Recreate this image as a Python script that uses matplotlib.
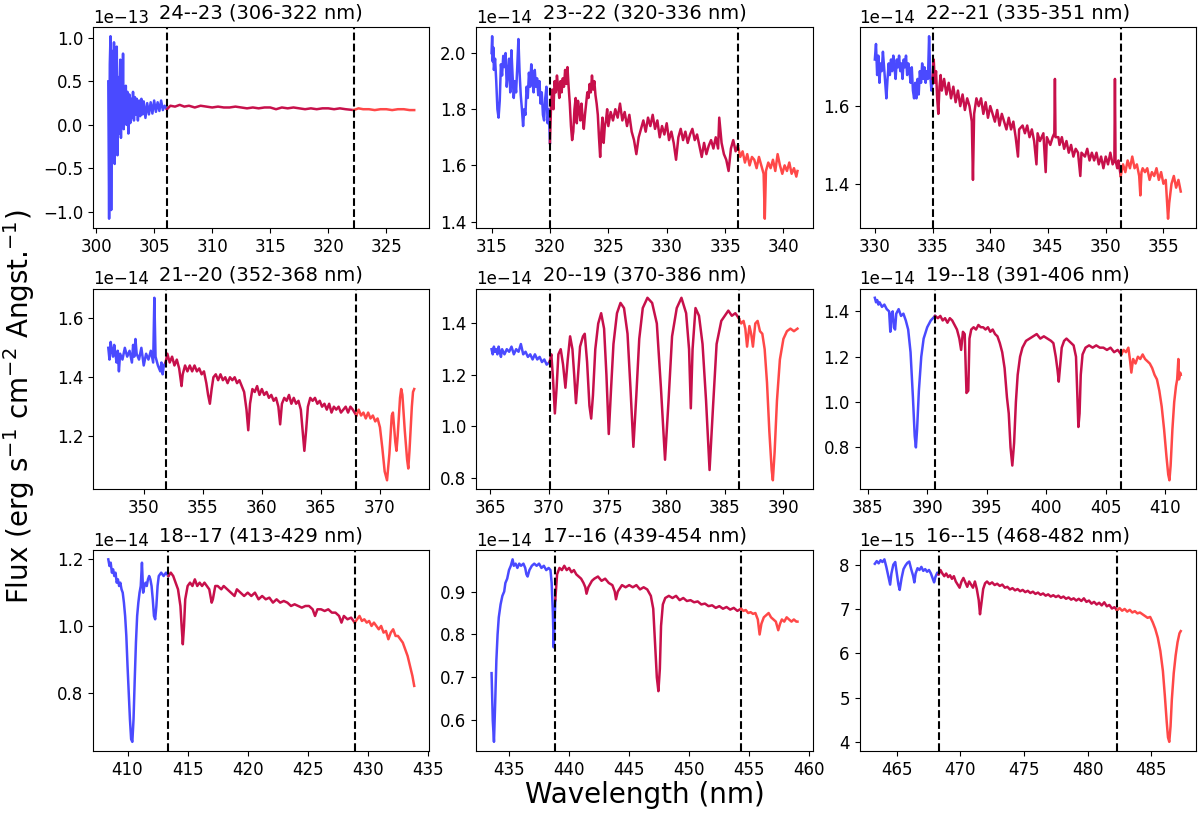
import numpy as np
import matplotlib
matplotlib.use("Agg")
import matplotlib.pyplot as plt

# ---- data (flux in units of SCALE for each panel) ----
TITLES = ["24--23 (306-322 nm)", "23--22 (320-336 nm)", "22--21 (335-351 nm)",
          "21--20 (352-368 nm)", "20--19 (370-386 nm)", "19--18 (391-406 nm)",
          "18--17 (413-429 nm)", "17--16 (439-454 nm)", "16--15 (468-482 nm)"]
EXPO = [-13, -14, -14, -14, -14, -14, -14, -14, -15]
EDGES = [(306.1, 322.2), (320.0, 336.1), (335.0, 351.3),
         (351.85, 368.0), (370.05, 386.2), (390.66, 406.3),
         (413.4, 428.9), (438.85, 454.3), (468.3, 482.3)]
YTICKS = [[-1.0, -0.5, 0.0, 0.5, 1.0], [1.4, 1.6, 1.8, 2.0], [1.4, 1.6],
          [1.2, 1.4, 1.6], [0.8, 1.0, 1.2, 1.4], [0.8, 1.0, 1.2, 1.4],
          [0.8, 1.0, 1.2], [0.6, 0.7, 0.8, 0.9], [4, 5, 6, 7, 8]]

W1 = [301.05, 301.12, 301.18, 301.24, 301.30, 301.36, 301.42, 301.48, 301.54, 301.60,
      301.66, 301.72, 301.78, 301.84, 301.90, 301.96, 302.02, 302.08, 302.14, 302.20,
      302.26, 302.32, 302.38, 302.44, 302.50, 302.56, 302.62, 302.70, 302.78, 302.86,
      302.94, 303.02, 303.10, 303.18, 303.26, 303.34, 303.42, 303.50, 303.60, 303.70,
      303.80, 303.90, 304.00, 304.10, 304.25, 304.40, 304.55, 304.70, 304.85, 305.00,
      305.15, 305.30, 305.45, 305.60, 305.75, 305.90, 306.10,
      306.4, 306.8, 307.2, 307.6, 308.0, 308.5, 309.0, 309.5, 310.0, 310.5, 311.0,
      311.5, 312.0, 312.5, 313.0, 313.5, 314.0, 314.5, 315.0, 315.5, 316.0, 316.5,
      317.0, 317.5, 318.0, 318.5, 319.0, 319.5, 320.0, 320.5, 321.0, 321.5, 322.2,
      322.6, 323.0, 323.5, 324.0, 324.5, 325.0, 325.5, 326.0, 326.5, 327.0, 327.4]
F1 = [0.50, -1.08, 0.70, 1.02, -0.98, 0.35, 0.85, -0.40, 0.95, -0.45,
      0.60, 0.20, 0.90, -0.35, 0.55, -0.10, 0.40, 0.75, -0.15, 0.62,
      0.10, 0.82, -0.05, 0.35, 0.05, 0.45, 0.00, 0.38, -0.10, 0.35,
      0.02, 0.30, 0.08, 0.38, 0.05, 0.32, 0.12, 0.30, 0.05, 0.28,
      0.10, 0.30, 0.12, 0.27, 0.08, 0.25, 0.12, 0.26, 0.13, 0.28,
      0.15, 0.26, 0.16, 0.28, 0.17, 0.22, 0.18,
      0.22, 0.21, 0.23, 0.21, 0.22, 0.20, 0.22, 0.21, 0.20, 0.21, 0.20,
      0.20, 0.21, 0.20, 0.19, 0.20, 0.19, 0.20, 0.20, 0.18, 0.20, 0.19,
      0.20, 0.19, 0.18, 0.19, 0.18, 0.19, 0.19, 0.18, 0.19, 0.18, 0.17,
      0.19, 0.18, 0.18, 0.17, 0.18, 0.18, 0.17, 0.18, 0.18, 0.17, 0.17]

W2 = [315.0, 315.05, 315.1, 315.15, 315.2, 315.3, 315.4, 315.5, 315.6, 315.7,
      315.8, 315.9, 316.0, 316.1, 316.2, 316.3, 316.4, 316.5, 316.6, 316.7,
      316.8, 316.9, 317.0, 317.1, 317.2, 317.3, 317.4, 317.5, 317.6, 317.7,
      317.8, 317.9, 318.0, 318.1, 318.2, 318.3, 318.4, 318.5, 318.6, 318.7,
      318.8, 318.9, 319.0, 319.1, 319.2, 319.3, 319.4, 319.5, 319.6, 319.7,
      319.8, 319.9, 320.0,
      320.1, 320.2, 320.3, 320.4, 320.5, 320.6, 320.7, 320.8, 320.9, 321.0,
      321.1, 321.2, 321.3, 321.4, 321.5, 321.6, 321.7, 321.8, 321.9, 322.0,
      322.1, 322.2, 322.3, 322.4, 322.5, 322.6, 322.7, 322.8, 322.9, 323.0,
      323.1, 323.2, 323.3, 323.4, 323.5, 323.6, 323.7, 323.8, 323.9, 324.0,
      324.1, 324.2, 324.3, 324.4, 324.5, 324.6, 324.7, 324.8, 324.9, 325.0,
      325.2, 325.4, 325.6, 325.8, 326.0, 326.2, 326.4, 326.6, 326.8, 327.0,
      327.2, 327.4, 327.6, 327.8, 328.0, 328.2, 328.4, 328.6, 328.8, 329.0,
      329.2, 329.4, 329.6, 329.8, 330.0, 330.2, 330.4, 330.6, 330.8, 331.0,
      331.2, 331.4, 331.6, 331.8, 332.0, 332.2, 332.4, 332.6, 332.8, 333.0,
      333.2, 333.4, 333.6, 333.8, 334.0, 334.2, 334.4, 334.5, 334.7, 334.9,
      335.1, 335.3, 335.5, 335.7, 335.9, 336.1,
      336.3, 336.5, 336.7, 336.9, 337.1, 337.3, 337.5, 337.7, 337.9, 338.1,
      338.3, 338.4, 338.5, 338.7, 338.9, 339.1, 339.3, 339.5, 339.7, 339.9,
      340.1, 340.3, 340.5, 340.7, 340.9, 341.1, 341.2]
F2 = [2.00, 2.06, 1.97, 2.02, 1.94, 1.98, 1.90, 1.80, 1.77, 1.83,
      1.96, 1.92, 1.99, 1.95, 2.00, 1.88, 1.93, 1.98, 1.86, 2.01,
      1.92, 1.84, 1.90, 1.86, 1.95, 2.05, 1.93, 1.85, 1.80, 1.74,
      1.80, 1.78, 1.88, 1.84, 1.93, 1.88, 1.96, 1.90, 1.86, 1.94,
      1.88, 1.91, 1.85, 1.90, 1.82, 1.86, 1.78, 1.76, 1.84, 1.88,
      1.75, 1.80, 1.68,
      1.82, 1.87, 1.80, 1.90, 1.86, 1.92, 1.88, 1.84, 1.90, 1.86,
      1.91, 1.88, 1.94, 1.89, 1.95, 1.88, 1.82, 1.74, 1.69, 1.72,
      1.80, 1.84, 1.75, 1.83, 1.80, 1.76, 1.82, 1.77, 1.73, 1.78,
      1.82, 1.86, 1.84, 1.89, 1.86, 1.92, 1.87, 1.90, 1.85, 1.82,
      1.78, 1.70, 1.63, 1.72, 1.77, 1.68, 1.74, 1.76, 1.80, 1.74,
      1.79, 1.76, 1.80, 1.77, 1.82, 1.76, 1.79, 1.74, 1.78, 1.72,
      1.69, 1.64, 1.70, 1.73, 1.76, 1.72, 1.77, 1.74, 1.78, 1.73,
      1.76, 1.70, 1.74, 1.71, 1.75, 1.69, 1.72, 1.68, 1.62, 1.70,
      1.73, 1.69, 1.72, 1.68, 1.71, 1.73, 1.69, 1.71, 1.67, 1.63,
      1.68, 1.64, 1.67, 1.69, 1.66, 1.70, 1.66, 1.77, 1.68, 1.64,
      1.62, 1.58, 1.66, 1.69, 1.65, 1.67,
      1.63, 1.65, 1.61, 1.64, 1.60, 1.63, 1.62, 1.59, 1.63, 1.60,
      1.57, 1.41, 1.58, 1.61, 1.59, 1.62, 1.58, 1.64, 1.60, 1.57,
      1.60, 1.58, 1.61, 1.57, 1.59, 1.56, 1.58]

W3 = [330.0, 330.1, 330.2, 330.3, 330.4, 330.5, 330.6, 330.7, 330.8, 330.9,
      331.0, 331.1, 331.2, 331.3, 331.4, 331.5, 331.6, 331.7, 331.8, 331.9,
      332.0, 332.1, 332.2, 332.3, 332.4, 332.5, 332.6, 332.7, 332.8, 332.9,
      333.0, 333.1, 333.2, 333.3, 333.4, 333.5, 333.6, 333.7, 333.8, 333.9,
      334.0, 334.1, 334.2, 334.3, 334.4, 334.5, 334.6, 334.7, 334.8, 334.9,
      335.0,
      335.1, 335.2, 335.3, 335.4, 335.5, 335.6, 335.7, 335.8, 336.0, 336.2,
      336.4, 336.6, 336.8, 337.0, 337.2, 337.4, 337.6, 337.8, 338.0, 338.2,
      338.4, 338.5, 338.6, 338.8, 339.0, 339.2, 339.4, 339.6, 339.8, 340.0,
      340.2, 340.4, 340.6, 340.8, 341.0, 341.2, 341.4, 341.6, 341.8, 342.0,
      342.2, 342.4, 342.5, 342.8, 343.0, 343.2, 343.4, 343.6, 343.8, 344.0,
      344.1, 344.3, 344.6, 344.8, 344.9, 345.2, 345.4, 345.55, 345.6, 345.65,
      345.9, 346.0, 346.2, 346.4, 346.6, 346.8, 347.0, 347.2, 347.4, 347.6,
      347.8, 347.9, 348.2, 348.4, 348.6, 348.8, 349.0, 349.2, 349.4, 349.6,
      349.8, 350.0, 350.2, 350.4, 350.6, 350.75, 350.8, 350.85, 351.0, 351.1,
      351.3,
      351.5, 351.7, 351.9, 352.1, 352.3, 352.5, 352.7, 352.9, 353.0, 353.1,
      353.2, 353.4, 353.6, 353.8, 354.0, 354.2, 354.4, 354.6, 354.8, 355.0,
      355.2, 355.3, 355.4, 355.5, 355.7, 355.9, 356.1, 356.3, 356.5]
F3 = [1.72, 1.76, 1.68, 1.73, 1.66, 1.71, 1.69, 1.74, 1.70, 1.66,
      1.62, 1.67, 1.71, 1.68, 1.72, 1.69, 1.73, 1.70, 1.67, 1.72,
      1.70, 1.73, 1.69, 1.71, 1.67, 1.72, 1.70, 1.73, 1.68, 1.71,
      1.69, 1.66, 1.70, 1.64, 1.62, 1.66, 1.62, 1.67, 1.63, 1.69,
      1.66, 1.71, 1.67, 1.70, 1.66, 1.69, 1.67, 1.78, 1.68, 1.64,
      1.67,
      1.72, 1.66, 1.69, 1.62, 1.58, 1.65, 1.68, 1.64, 1.67, 1.63,
      1.66, 1.62, 1.65, 1.61, 1.64, 1.60, 1.63, 1.59, 1.62, 1.60,
      1.56, 1.41, 1.58, 1.62, 1.60, 1.62, 1.58, 1.61, 1.57, 1.60,
      1.58, 1.56, 1.59, 1.55, 1.58, 1.56, 1.54, 1.57, 1.54, 1.56,
      1.52, 1.47, 1.54, 1.55, 1.53, 1.55, 1.52, 1.54, 1.51, 1.45,
      1.53, 1.51, 1.53, 1.43, 1.52, 1.50, 1.52, 1.53, 1.67, 1.52,
      1.52, 1.50, 1.52, 1.49, 1.51, 1.48, 1.50, 1.47, 1.49, 1.48,
      1.42, 1.48, 1.47, 1.49, 1.46, 1.48, 1.46, 1.48, 1.45, 1.47,
      1.44, 1.47, 1.45, 1.48, 1.45, 1.46, 1.67, 1.46, 1.44, 1.46,
      1.42,
      1.45, 1.43, 1.46, 1.44, 1.47, 1.44, 1.45, 1.42, 1.37, 1.43,
      1.44, 1.43, 1.44, 1.41, 1.43, 1.42, 1.44, 1.41, 1.43, 1.40,
      1.41, 1.36, 1.31, 1.35, 1.40, 1.42, 1.39, 1.41, 1.38]

W4 = [347.0, 347.1, 347.2, 347.3, 347.4, 347.5, 347.6, 347.7, 347.8, 347.9,
      348.0, 348.2, 348.4, 348.6, 348.8, 349.0, 349.1, 349.2, 349.3, 349.4,
      349.6, 349.8, 350.0, 350.2, 350.4, 350.6, 350.8, 350.9, 351.0, 351.2,
      351.4, 351.5, 351.6, 351.7, 351.85,
      352.0, 352.2, 352.4, 352.6, 352.8, 353.0, 353.1, 353.2, 353.3, 353.5,
      353.7, 353.9, 354.1, 354.3, 354.5, 354.7, 354.9, 355.1, 355.3, 355.45,
      355.6, 355.75, 355.9, 356.1, 356.3, 356.5, 356.7, 356.9, 357.1, 357.3,
      357.5, 357.7, 357.9, 358.1, 358.3, 358.5, 358.7, 358.85, 359.0, 359.2,
      359.4, 359.6, 359.8, 360.0, 360.2, 360.4, 360.6, 360.8, 361.0, 361.2,
      361.4, 361.55, 361.7, 361.9, 362.1, 362.3, 362.5, 362.7, 362.9, 363.1,
      363.3, 363.45, 363.6, 363.75, 363.9, 364.1, 364.3, 364.5, 364.7, 364.9,
      365.1, 365.3, 365.5, 365.7, 365.9, 366.1, 366.3, 366.5, 366.7, 366.9,
      367.1, 367.3, 367.5, 367.7, 368.0,
      368.2, 368.4, 368.6, 368.8, 369.0, 369.2, 369.4, 369.6, 369.8, 370.0,
      370.2, 370.4, 370.6, 370.8, 371.0, 371.1, 371.3, 371.4, 371.5, 371.7,
      371.8, 371.9, 372.1, 372.3, 372.4, 372.5, 372.7, 372.8, 372.9]
F4 = [1.50, 1.46, 1.52, 1.49, 1.47, 1.51, 1.48, 1.45, 1.49, 1.42,
      1.48, 1.46, 1.50, 1.47, 1.49, 1.45, 1.51, 1.47, 1.53, 1.48,
      1.46, 1.50, 1.44, 1.48, 1.46, 1.49, 1.45, 1.67, 1.47, 1.44,
      1.42, 1.45, 1.41, 1.44, 1.45,
      1.48, 1.45, 1.47, 1.44, 1.46, 1.43, 1.40, 1.37, 1.41, 1.44,
      1.42, 1.44, 1.42, 1.44, 1.42, 1.43, 1.41, 1.42, 1.38, 1.34,
      1.31, 1.36, 1.40, 1.41, 1.39, 1.41, 1.39, 1.40, 1.38, 1.40,
      1.39, 1.40, 1.38, 1.39, 1.37, 1.35, 1.29, 1.22, 1.31, 1.36,
      1.35, 1.37, 1.34, 1.36, 1.34, 1.35, 1.33, 1.34, 1.32, 1.33,
      1.30, 1.24, 1.31, 1.33, 1.32, 1.34, 1.31, 1.33, 1.31, 1.32,
      1.29, 1.22, 1.15, 1.22, 1.30, 1.33, 1.32, 1.33, 1.31, 1.32,
      1.30, 1.31, 1.29, 1.31, 1.28, 1.30, 1.29, 1.30, 1.28, 1.29,
      1.30, 1.28, 1.30, 1.29, 1.27,
      1.29, 1.27, 1.28, 1.26, 1.28, 1.26, 1.27, 1.25, 1.26, 1.23,
      1.16, 1.08, 1.05, 1.14, 1.27, 1.28, 1.18, 1.15, 1.20, 1.33,
      1.36, 1.34, 1.22, 1.12, 1.09, 1.15, 1.30, 1.35, 1.36]

W5 = [365.1, 365.2, 365.3, 365.4, 365.5, 365.6, 365.7, 365.8, 365.9, 366.0,
      366.2, 366.4, 366.6, 366.8, 367.0, 367.2, 367.4, 367.6, 367.8, 368.0,
      368.2, 368.4, 368.6, 368.8, 369.0, 369.2, 369.4, 369.6, 369.8, 370.05,
      370.2, 370.35, 370.5, 370.65, 370.8, 371.0, 371.2, 371.4, 371.6, 371.8,
      372.0, 372.15, 372.3, 372.45, 372.65, 372.9, 373.05, 373.25, 373.45, 373.6,
      373.75, 373.95, 374.2, 374.45, 374.7, 374.9, 375.1, 375.3, 375.5, 375.8,
      376.1, 376.4, 376.7, 376.95, 377.2, 377.45, 377.7, 378.0, 378.4, 378.8,
      379.2, 379.55, 379.9, 380.2, 380.5, 380.9, 381.3, 381.7, 381.95, 382.1,
      382.25, 382.5, 382.8, 383.1, 383.4, 383.7, 384.0, 384.3, 384.7, 385.0,
      385.3, 385.6, 385.9, 386.2,
      386.4, 386.6, 386.75, 386.9, 387.1, 387.25, 387.4, 387.6, 387.8, 388.0,
      388.2, 388.4, 388.6, 388.8, 389.0, 389.1, 389.25, 389.45, 389.7, 390.0,
      390.3, 390.6, 390.9, 391.2]
F5 = [1.30, 1.28, 1.31, 1.29, 1.30, 1.28, 1.31, 1.29, 1.27, 1.30,
      1.28, 1.30, 1.29, 1.31, 1.28, 1.30, 1.29, 1.32, 1.28, 1.29,
      1.27, 1.28, 1.26, 1.28, 1.26, 1.27, 1.25, 1.26, 1.24, 1.25,
      1.28, 1.18, 1.05, 1.15, 1.28, 1.30, 1.24, 1.15, 1.26, 1.35,
      1.30, 1.20, 1.09, 1.18, 1.31, 1.35, 1.36, 1.25, 1.08, 1.03,
      1.12, 1.30, 1.40, 1.44, 1.38, 1.20, 0.97, 1.15, 1.32, 1.44,
      1.48, 1.46, 1.36, 1.15, 0.92, 1.12, 1.34, 1.46, 1.50, 1.48,
      1.40, 1.15, 0.87, 1.10, 1.35, 1.46, 1.50, 1.44, 1.30, 1.07,
      1.30, 1.46, 1.43, 1.32, 1.10, 0.83, 1.08, 1.32, 1.41, 1.43,
      1.45, 1.43, 1.44, 1.42,
      1.40, 1.41, 1.38, 1.31, 1.39, 1.36, 1.31, 1.40, 1.41, 1.37,
      1.36, 1.30, 1.17, 0.98, 0.83, 0.79, 0.90, 1.10, 1.26, 1.34,
      1.37, 1.38, 1.37, 1.38]

W6 = [385.6, 385.7, 385.8, 385.9, 386.0, 386.2, 386.4, 386.6, 386.8, 386.9,
      387.0, 387.1, 387.2, 387.3, 387.4, 387.6, 387.8, 388.0, 388.2, 388.4,
      388.6, 388.8, 388.95, 389.05, 389.15, 389.3, 389.5, 389.7, 390.0, 390.3,
      390.66,
      390.9, 391.1, 391.3, 391.5, 391.7, 391.9, 392.1, 392.3, 392.5, 392.7,
      392.85, 393.0, 393.15, 393.3, 393.45, 393.55, 393.7, 393.9, 394.1, 394.3,
      394.5, 394.7, 394.9, 395.1, 395.3, 395.5, 395.7, 395.9, 396.1, 396.3,
      396.5, 396.7, 396.85, 397.0, 397.15, 397.3, 397.45, 397.6, 397.8, 398.0,
      398.3, 398.6, 398.9, 399.2, 399.5, 399.8, 400.1, 400.4, 400.6, 400.8,
      400.95, 401.05, 401.15, 401.3, 401.5, 401.7, 401.9, 402.1, 402.3, 402.5,
      402.6, 402.7, 402.8, 402.9, 403.05, 403.3, 403.6, 403.9, 404.2, 404.5,
      404.8, 405.1, 405.4, 405.7, 406.0, 406.3,
      406.5, 406.7, 406.9, 407.05, 407.15, 407.3, 407.5, 407.7, 407.9, 408.1,
      408.3, 408.5, 408.7, 408.9, 409.1, 409.3, 409.5, 409.7, 409.9, 410.1,
      410.25, 410.35, 410.45, 410.6, 410.75, 410.9, 411.0, 411.1, 411.15, 411.25,
      411.3]
F6 = [1.46, 1.44, 1.45, 1.43, 1.44, 1.42, 1.43, 1.41, 1.40, 1.31,
      1.39, 1.40, 1.33, 1.32, 1.39, 1.41, 1.38, 1.39, 1.36, 1.32,
      1.22, 1.02, 0.85, 0.80, 0.88, 1.05, 1.20, 1.28, 1.33, 1.36,
      1.38,
      1.37, 1.38, 1.36, 1.37, 1.35, 1.37, 1.36, 1.34, 1.32, 1.28,
      1.23, 1.31, 1.30, 1.04, 1.05, 1.28, 1.32, 1.33, 1.32, 1.34,
      1.33, 1.33, 1.32, 1.33, 1.31, 1.32, 1.30, 1.29, 1.26, 1.22,
      1.15, 1.02, 0.95, 0.80, 0.72, 0.82, 1.00, 1.12, 1.20, 1.24,
      1.27, 1.28, 1.29, 1.30, 1.28, 1.29, 1.28, 1.27, 1.26, 1.20,
      1.14, 1.09, 1.15, 1.24, 1.27, 1.28, 1.27, 1.26, 1.25, 1.20,
      1.05, 0.89, 0.95, 1.12, 1.21, 1.24, 1.25, 1.24, 1.25, 1.24,
      1.24, 1.23, 1.24, 1.22, 1.23, 1.21,
      1.23, 1.22, 1.24, 1.18, 1.13, 1.19, 1.17, 1.20, 1.19, 1.21,
      1.19, 1.18, 1.17, 1.15, 1.12, 1.10, 1.05, 0.98, 0.88, 0.76,
      0.68, 0.655, 0.72, 0.88, 1.00, 1.07, 1.10, 1.19, 1.10, 1.13,
      1.12]

W7 = [408.4, 408.5, 408.6, 408.7, 408.8, 408.9, 409.0, 409.1, 409.2, 409.3,
      409.4, 409.5, 409.6, 409.7, 409.8, 409.9, 410.0, 410.1, 410.2, 410.3,
      410.4, 410.5, 410.6, 410.7, 410.8, 410.9, 411.0, 411.1, 411.2, 411.3,
      411.4, 411.5, 411.6, 411.7, 411.8, 411.9, 412.0, 412.1, 412.2, 412.3,
      412.4, 412.5, 412.6, 412.8, 413.0, 413.2, 413.4,
      413.6, 413.8, 414.0, 414.2, 414.4, 414.5, 414.6, 414.7, 414.8, 415.0,
      415.2, 415.4, 415.6, 415.8, 416.0, 416.2, 416.4, 416.6, 416.8, 417.0,
      417.1, 417.3, 417.5, 417.8, 418.0, 418.3, 418.6, 418.9, 419.1, 419.4,
      419.7, 420.0, 420.3, 420.6, 420.9, 421.2, 421.5, 421.8, 422.1, 422.4,
      422.7, 423.0, 423.3, 423.6, 423.9, 424.2, 424.5, 424.8, 425.1, 425.4,
      425.6, 425.8, 426.1, 426.4, 426.7, 427.0, 427.3, 427.6, 427.8, 428.0,
      428.3, 428.6, 428.9,
      429.1, 429.3, 429.5, 429.7, 429.9, 430.1, 430.3, 430.5, 430.7, 430.9,
      431.1, 431.3, 431.5, 431.7, 431.9, 432.1, 432.3, 432.5, 432.7, 432.9,
      433.1, 433.3, 433.5, 433.7, 433.85]
F7 = [1.20, 1.18, 1.19, 1.16, 1.17, 1.15, 1.16, 1.13, 1.14, 1.12,
      1.13, 1.11, 1.10, 1.07, 1.03, 0.97, 0.88, 0.80, 0.72, 0.66,
      0.652, 0.72, 0.84, 0.95, 1.03, 1.07, 1.10, 1.12, 1.19, 1.10,
      1.12, 1.13, 1.12, 1.14, 1.15, 1.14, 1.12, 1.08, 1.03, 1.02,
      1.06, 1.12, 1.15, 1.16, 1.15, 1.16, 1.15,
      1.16, 1.15, 1.13, 1.11, 1.06, 1.00, 0.945, 1.00, 1.08, 1.12,
      1.13, 1.12, 1.14, 1.12, 1.13, 1.12, 1.13, 1.12, 1.11, 1.07,
      1.08, 1.12, 1.12, 1.11, 1.12, 1.11, 1.10, 1.09, 1.11, 1.10,
      1.09, 1.10, 1.09, 1.10, 1.08, 1.09, 1.08, 1.085, 1.07, 1.08,
      1.07, 1.075, 1.07, 1.06, 1.065, 1.06, 1.055, 1.06, 1.06, 1.05,
      1.03, 1.05, 1.05, 1.045, 1.05, 1.04, 1.04, 1.03, 1.01, 1.03,
      1.02, 1.025, 1.01,
      1.02, 1.03, 1.015, 1.02, 1.01, 1.015, 1.00, 1.01, 1.00, 0.99,
      1.00, 0.98, 0.985, 0.96, 0.98, 0.99, 0.97, 0.97, 0.96, 0.95,
      0.93, 0.91, 0.88, 0.85, 0.82]

W8 = [433.55, 433.65, 433.75, 433.85, 433.95, 434.05, 434.15, 434.3, 434.45, 434.6,
      434.7, 434.85, 435.0, 435.15, 435.3, 435.4, 435.55, 435.7, 435.85, 436.0,
      436.2, 436.35, 436.45, 436.55, 436.7, 436.9, 437.1, 437.3, 437.5, 437.7,
      437.9, 438.1, 438.3, 438.45, 438.55, 438.65, 438.72, 438.85,
      439.0, 439.2, 439.4, 439.6, 439.8, 440.0, 440.2, 440.4, 440.6, 440.8,
      441.0, 441.2, 441.35, 441.45, 441.6, 441.9, 442.1, 442.4, 442.7, 443.0,
      443.3, 443.6, 443.8, 443.9, 444.05, 444.4, 444.7, 445.0, 445.3, 445.6,
      445.9, 446.2, 446.5, 446.8, 447.0, 447.15, 447.3, 447.43, 447.55, 447.65,
      447.8, 448.0, 448.3, 448.6, 448.9, 449.2, 449.5, 449.8, 450.1, 450.4,
      450.7, 451.0, 451.3, 451.6, 451.9, 452.2, 452.5, 452.8, 453.1, 453.4,
      453.7, 454.0, 454.3,
      454.5, 454.7, 454.9, 455.1, 455.3, 455.5, 455.7, 455.85, 456.0, 456.2,
      456.4, 456.6, 456.8, 457.0, 457.2, 457.4, 457.55, 457.7, 457.9, 458.1,
      458.3, 458.5, 458.7, 458.9, 459.0]
F8 = [0.71, 0.60, 0.55, 0.64, 0.74, 0.80, 0.84, 0.87, 0.89, 0.90,
      0.92, 0.93, 0.95, 0.96, 0.975, 0.96, 0.965, 0.955, 0.965, 0.96,
      0.965, 0.955, 0.94, 0.935, 0.95, 0.96, 0.965, 0.96, 0.965, 0.955,
      0.96, 0.95, 0.955, 0.95, 0.92, 0.85, 0.77, 0.88,
      0.94, 0.955, 0.95, 0.96, 0.95, 0.955, 0.945, 0.95, 0.94, 0.935,
      0.93, 0.92, 0.91, 0.895, 0.91, 0.925, 0.93, 0.935, 0.925, 0.93,
      0.92, 0.915, 0.90, 0.882, 0.90, 0.915, 0.91, 0.915, 0.91, 0.915,
      0.905, 0.91, 0.905, 0.89, 0.86, 0.78, 0.70, 0.668, 0.72, 0.82,
      0.87, 0.885, 0.89, 0.885, 0.89, 0.88, 0.885, 0.878, 0.88, 0.875,
      0.877, 0.87, 0.872, 0.866, 0.868, 0.862, 0.866, 0.86, 0.864, 0.858,
      0.862, 0.855, 0.86,
      0.855, 0.857, 0.85, 0.852, 0.848, 0.85, 0.835, 0.80, 0.825, 0.84,
      0.845, 0.85, 0.84, 0.835, 0.83, 0.81, 0.825, 0.835, 0.83, 0.84,
      0.835, 0.83, 0.835, 0.83, 0.83]

W9 = [463.3, 463.45, 463.6, 463.75, 463.9, 464.05, 464.2, 464.35, 464.5, 464.6,
      464.75, 464.9, 465.0, 465.15, 465.25, 465.4, 465.55, 465.7, 465.85, 466.0,
      466.15, 466.3, 466.4, 466.5, 466.65, 466.8, 466.95, 467.1, 467.25, 467.4,
      467.55, 467.7, 467.85, 467.95, 468.05, 468.2, 468.3,
      468.45, 468.6, 468.75, 468.9, 469.05, 469.2, 469.35, 469.5, 469.65, 469.8,
      469.95, 470.1, 470.25, 470.4, 470.55, 470.7, 470.85, 471.0, 471.15, 471.3,
      471.45, 471.55, 471.65, 471.8, 471.95, 472.1, 472.3, 472.5, 472.7, 472.9,
      473.1, 473.3, 473.5, 473.7, 473.9, 474.1, 474.3, 474.5, 474.7, 474.9,
      475.1, 475.3, 475.5, 475.7, 475.9, 476.1, 476.3, 476.5, 476.7, 476.9,
      477.1, 477.3, 477.5, 477.7, 477.9, 478.1, 478.3, 478.5, 478.7, 478.9,
      479.1, 479.3, 479.5, 479.7, 479.9, 480.1, 480.3, 480.5, 480.7, 480.9,
      481.1, 481.3, 481.5, 481.7, 481.9, 482.1, 482.3,
      482.5, 482.7, 482.9, 483.1, 483.3, 483.5, 483.7, 483.9, 484.1, 484.3,
      484.5, 484.7, 484.9, 485.1, 485.3, 485.5, 485.7, 485.9, 486.05, 486.2,
      486.3, 486.4, 486.5, 486.6, 486.75, 486.9, 487.05, 487.2, 487.3]
F9 = [8.02, 8.08, 8.03, 8.10, 8.06, 8.12, 7.95, 7.75, 7.55, 7.80,
      8.00, 8.06, 7.85, 7.55, 7.43, 7.70, 7.90, 7.98, 8.04, 8.07,
      7.90, 7.75, 7.60, 7.80, 7.92, 7.88, 7.95, 7.86, 7.90, 7.84,
      7.88, 7.80, 7.68, 7.60, 7.72, 7.82, 7.78,
      7.88, 7.80, 7.74, 7.80, 7.72, 7.76, 7.68, 7.74, 7.62, 7.55,
      7.48, 7.62, 7.70, 7.60, 7.50, 7.62, 7.55, 7.48, 7.62, 7.45,
      7.20, 6.88, 7.10, 7.45, 7.58, 7.62, 7.56, 7.60, 7.54, 7.57,
      7.52, 7.55, 7.48, 7.50, 7.44, 7.47, 7.42, 7.45, 7.40, 7.43,
      7.38, 7.41, 7.36, 7.39, 7.34, 7.37, 7.32, 7.35, 7.30, 7.33,
      7.28, 7.31, 7.27, 7.30, 7.25, 7.28, 7.23, 7.26, 7.21, 7.24,
      7.19, 7.23, 7.18, 7.24, 7.16, 7.19, 7.12, 7.16, 7.10, 7.14,
      7.08, 7.15, 7.06, 7.09, 7.01, 7.04, 6.97,
      7.02, 6.96, 7.00, 6.94, 6.98, 6.92, 6.95, 6.90, 6.92, 6.88,
      6.84, 6.80, 6.82, 6.70, 6.55, 6.35, 6.05, 5.60, 5.05, 4.45,
      4.10, 4.00, 4.35, 4.95, 5.55, 5.95, 6.25, 6.45, 6.50]

WAVES = [W1, W2, W3, W4, W5, W6, W7, W8, W9]
FLUXES = [F1, F2, F3, F4, F5, F6, F7, F8, F9]

C_BLUE, C_MID, C_RED = "#4a4aff", "#c7104b", "#ff4848"

fig, axes = plt.subplots(3, 3, figsize=(12, 8.21), dpi=100)
fig.subplots_adjust(left=0.0775, right=0.9967, bottom=0.0853, top=0.967,
                    wspace=0.139, hspace=0.303)

for k, ax in enumerate(axes.flat):
    scale = 10.0 ** EXPO[k]
    w = np.array(WAVES[k])
    f = np.array(FLUXES[k]) * scale
    b1, b2 = EDGES[k]
    i1 = np.searchsorted(w, b1)
    i2 = np.searchsorted(w, b2)
    ax.plot(w[:i1 + 1], f[:i1 + 1], color=C_BLUE, lw=1.8)
    ax.plot(w[i1:i2 + 1], f[i1:i2 + 1], color=C_MID, lw=1.8)
    ax.plot(w[i2:], f[i2:], color=C_RED, lw=1.8)
    ax.axvline(b1, color="k", ls="--", lw=1.5)
    ax.axvline(b2, color="k", ls="--", lw=1.5)
    ax.set_yticks(np.array(YTICKS[k]) * scale)
    ax.ticklabel_format(axis="y", style="sci", scilimits=(EXPO[k], EXPO[k]))
    ax.tick_params(labelsize=12)
    ax.yaxis.get_offset_text().set_fontsize(12)
    ax.set_title(TITLES[k], fontsize=14)

fig.text(0.016, 0.505, "Flux (erg s$^{-1}$ cm$^{-2}$ Angst.$^{-1}$)",
         rotation=90, va="center", ha="center", fontsize=20)
fig.text(0.537, 0.032, "Wavelength (nm)", ha="center", va="center", fontsize=20)

fig.savefig("out.png", dpi=100)
